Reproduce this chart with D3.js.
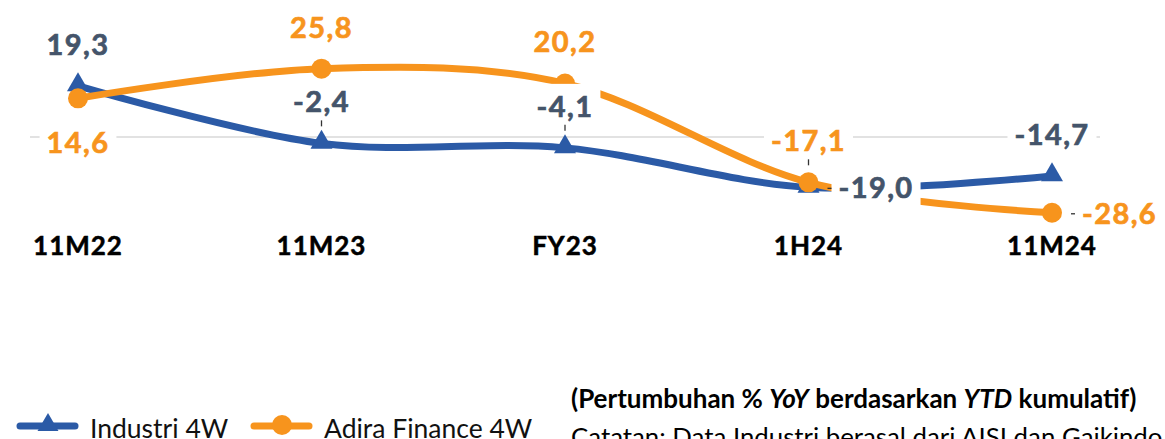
<!DOCTYPE html>
<html><head><meta charset="utf-8">
<script src="https://cdn.jsdelivr.net/npm/d3@7"></script>
<style>
html,body{margin:0;padding:0;background:#fff;}
svg{display:block;font-family:Lato,"Open Sans",sans-serif;}
</style></head>
<body>
<svg id="chart" width="1165" height="439"></svg>
<script>
const categories = ["11M22","11M23","FY23","1H24","11M24"];
const industri = [19.3, -2.4, -4.1, -19.0, -14.7];
const adira = [14.6, 25.8, 20.2, -17.1, -28.6];
const seriesNames = ["Industri 4W","Adira Finance 4W"];
// label placement per point (t = above, b = below, r = right) and leader flags
const industriPlace = ["t","t","t","r","t"];
const industriLeader = [false,true,true,true,false];
const adiraPlace = ["b","t","t","t","r"];
const adiraLeader = [false,false,false,true,true];
const yDomain = [-40, 40];
const noteTitle = ["(Pertumbuhan % ", "YoY", " berdasarkan ", "YTD", " kumulatif)"];
const noteLine = "Catatan: Data Industri berasal dari AISI dan Gaikindo";

const BLUE = "#2B5AA6", ORANGE = "#F7941D", LBLUE = "#44546A";

const svg = d3.select("#chart");
const x = d3.scalePoint().domain(categories).range([78, 1052]);
const y = d3.scaleLinear().domain(yDomain).range([243, 31]);

// zero gridline
svg.append("line").attr("x1", 30).attr("x2", 1100)
  .attr("y1", y(0)).attr("y2", y(0))
  .attr("stroke", "#D9D9D9").attr("stroke-width", 1.5);

const line = d3.line().x((d,i)=>x(categories[i])).y(d=>y(d))
  .curve(d3.curveCatmullRom.alpha(0));

const series = [
  {vals: industri, color: BLUE, lab: LBLUE, marker: "tri", place: industriPlace, leader: industriLeader},
  {vals: adira, color: ORANGE, lab: ORANGE, marker: "circ", place: adiraPlace, leader: adiraLeader}
];
const tri = d3.symbol().type(d3.symbolTriangle).size(210);

series.forEach(s => {
  svg.append("path").datum(s.vals).attr("d", line)
    .attr("fill","none").attr("stroke", s.color).attr("stroke-width", 7)
    .attr("stroke-linejoin","round");
  const g = svg.append("g");
  s.vals.forEach((v,i) => {
    if (s.marker === "tri") {
      g.append("path").attr("d", tri)
        .attr("transform", `translate(${x(categories[i])},${y(v)-1})`)
        .attr("fill", s.color);
    } else {
      g.append("circle").attr("cx", x(categories[i])).attr("cy", y(v)).attr("r", 10)
        .attr("fill", s.color);
    }
  });
});

const fmt = v => v.toFixed(1).replace(".", ",");
const labG = svg.append("g");
series.forEach(s => {
  s.vals.forEach((v,i) => {
    const px = x(categories[i]), py = y(v);
    const p = s.place[i];
    const g = labG.append("g");
    const rect = g.append("rect").attr("fill","#fff");
    let t;
    if (p === "r") {
      t = g.append("text").attr("x", px + 30).attr("y", py + 11).attr("text-anchor","start");
    } else if (p === "b") {
      t = g.append("text").attr("x", px).attr("y", py + 55).attr("text-anchor","middle");
    } else {
      t = g.append("text").attr("x", px).attr("y", py - 31).attr("text-anchor","middle");
    }
    t.text(fmt(v)).attr("font-size", 29).attr("font-weight", 700)
      .attr("letter-spacing", 1.4).attr("fill", s.lab)
      .attr("stroke", s.lab).attr("stroke-width", 0.7);
    const bb = t.node().getBBox();
    const base = +t.attr("y");
    rect.attr("x", bb.x - 7).attr("width", bb.width + 14)
      .attr("y", base - 33).attr("height", 41);
    if (s.leader[i]) {
      if (p === "r") {
        g.append("line").attr("x1", px + 19).attr("x2", px + 23)
          .attr("y1", py + 1).attr("y2", py + 1)
          .attr("stroke", "#333").attr("stroke-width", 1.3);
      } else {
        g.append("line").attr("x1", px).attr("x2", px)
          .attr("y1", base + 8).attr("y2", base + 14)
          .attr("stroke", "#333").attr("stroke-width", 1.3);
      }
    }
  });
});

// category labels
svg.append("g").selectAll("text").data(categories).join("text")
  .attr("x", d => x(d)).attr("y", 255).attr("text-anchor","middle")
  .attr("font-size", 26).attr("font-weight", 700).attr("letter-spacing", 1)
  .attr("stroke", "#000").attr("stroke-width", 0.5)
  .attr("fill", "#000").text(d => d);

// legend
const leg = svg.append("g");
const legItems = [
  {name: seriesNames[0], x0: 17, color: BLUE, marker: "tri", tx: 90},
  {name: seriesNames[1], x0: 251, color: ORANGE, marker: "circ", tx: 324}
];
legItems.forEach(it => {
  leg.append("line").attr("x1", it.x0 + 3).attr("x2", it.x0 + 58)
    .attr("y1", 426).attr("y2", 426).attr("stroke", it.color)
    .attr("stroke-width", 7).attr("stroke-linecap","round");
  if (it.marker === "tri") {
    leg.append("path").attr("d", d3.symbol().type(d3.symbolTriangle).size(190))
      .attr("transform", `translate(${it.x0 + 31},${425})`).attr("fill", it.color);
  } else {
    leg.append("circle").attr("cx", it.x0 + 31).attr("cy", 425).attr("r", 10).attr("fill", it.color);
  }
  leg.append("text").attr("x", it.tx).attr("y", 438).attr("font-size", 26.5)
    .attr("fill", "#111").text(it.name);
});

// note
const nt = svg.append("text").attr("x", 571).attr("y", 408).attr("font-size", 26)
  .attr("font-weight", 700).attr("fill", "#000");
noteTitle.forEach((s,i) => {
  nt.append("tspan").attr("font-style", i % 2 === 1 ? "italic" : "normal").text(s);
});
svg.append("text").attr("x", 571).attr("y", 446).attr("font-size", 25.8)
  .attr("fill", "#000").text(noteLine);
</script>
</body></html>
